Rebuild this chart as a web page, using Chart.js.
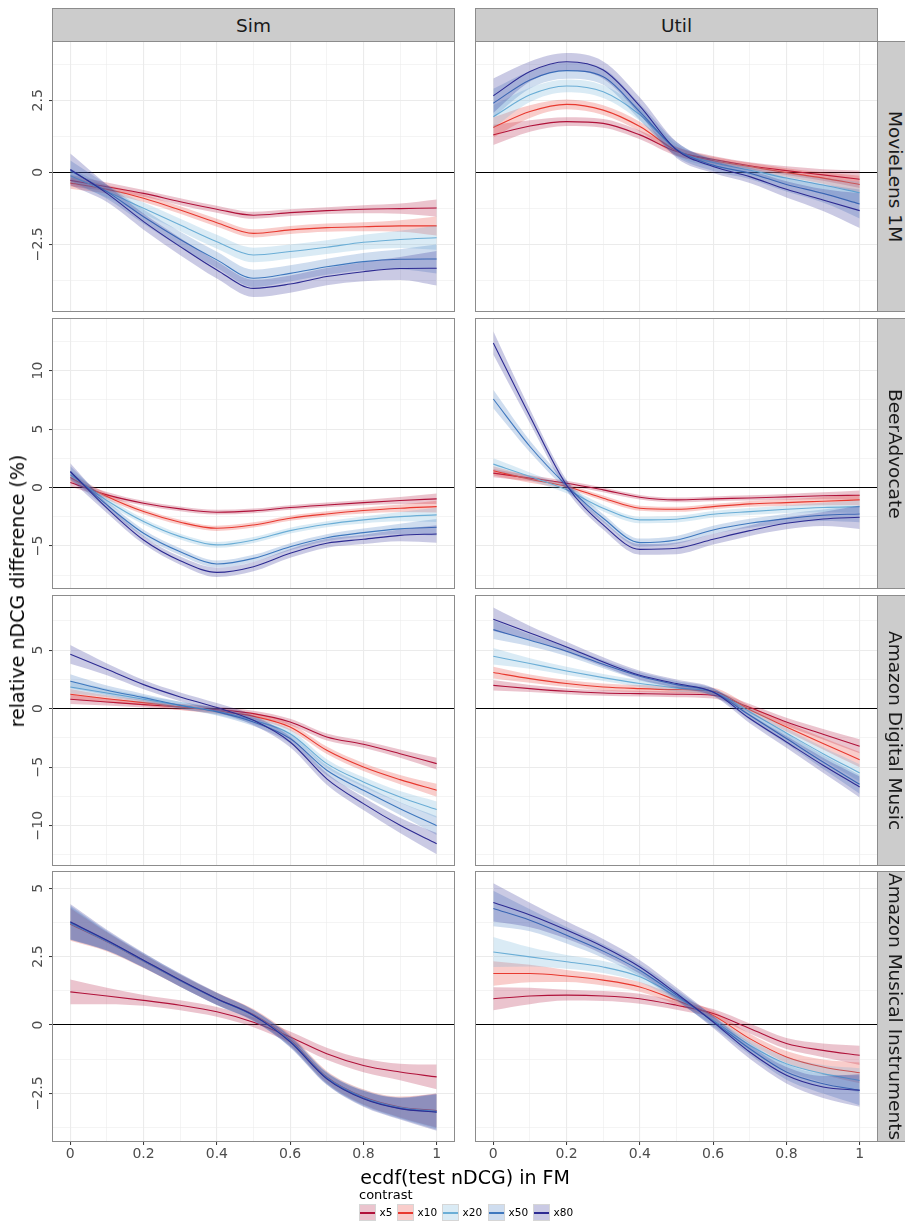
<!DOCTYPE html>
<html>
<head>
<meta charset="utf-8">
<script src="https://cdn.jsdelivr.net/npm/chart.js@4.4.1/dist/chart.umd.min.js"></script>
<style>
  body { margin: 0; background: #ffffff; }
  #fig { position: relative; width: 905px; height: 1224px; overflow: hidden;
         font-family: 'DejaVu Sans', sans-serif; background: #ffffff; }
  #fig canvas { position: absolute; }
  .strip { position: absolute; box-sizing: border-box; background: #CCCCCC;
           border: 1px solid #8C8C8C; color: #1A1A1A; font-size: 18.5px;
           display: flex; align-items: center; justify-content: center; white-space: nowrap; }
  .strip.side { writing-mode: vertical-rl; }
  .title { position: absolute; color: #000000; font-size: 19px; line-height: 22px; white-space: nowrap; }
  .key { position: absolute; box-sizing: border-box; width: 17px; height: 17px; border: 1px solid #D6D6D6; }
  .key i { position: absolute; left: 0; right: 0; top: 7px; height: 1.5px; }
  .klab { position: absolute; font-size: 10.5px; line-height: 14px; color: #000; }
</style>
</head>
<body>
<div id="fig"></div>
<script>
// ---- data: smoothed relative nDCG difference (%) at ecdf positions ----
const xs = [0, 0.1, 0.2, 0.3, 0.4, 0.5, 0.6, 0.7, 0.8, 0.9, 1];
const contrasts = ['x5', 'x10', 'x20', 'x50', 'x80'];
const methods = ['Sim', 'Util'];
const datasetNames = ['MovieLens 1M', 'BeerAdvocate', 'Amazon Digital Music', 'Amazon Musical Instruments'];

// axis breaks
const xBreaks = [0, 0.1, 0.2, 0.3, 0.4, 0.5, 0.6, 0.7, 0.8, 0.9, 1];
const xLabelled = [0, 0.2, 0.4, 0.6, 0.8, 1];
const yLimits = [[-4.85, 4.56], [-8.68, 14.5], [-13.45, 9.71], [-4.28, 5.63]];
const yMajor = [[-2.5, 0, 2.5], [-5, 0, 5, 10], [-10, -5, 0, 5], [-2.5, 0, 2.5, 5]];
const yMinor = [[-3.75, -1.25, 1.25, 3.75], [-7.5, -2.5, 2.5, 7.5, 12.5], [-12.5, -7.5, -2.5, 2.5, 7.5], [-3.75, -1.25, 1.25, 3.75]];

// MovieLens 1M
const simML1M = [
  [-0.28, -0.5, -0.73, -1.02, -1.28, -1.49, -1.40, -1.33, -1.28, -1.26, -1.24],
  [-0.37, -0.59, -0.9, -1.31, -1.75, -2.12, -2.0, -1.92, -1.89, -1.86, -1.86],
  [-0.12, -0.67, -1.25, -1.83, -2.41, -2.87, -2.75, -2.6, -2.43, -2.33, -2.27],
  [0.06, -0.67, -1.54, -2.33, -3.04, -3.68, -3.51, -3.28, -3.1, -3.02, -3.01],
  [0.1, -0.73, -1.71, -2.58, -3.39, -4.03, -3.88, -3.62, -3.45, -3.34, -3.33]
];
const simML1M_se = [
  [0.2, 0.15, 0.12, 0.12, 0.12, 0.12, 0.12, 0.12, 0.14, 0.18, 0.3],
  [0.2, 0.15, 0.13, 0.13, 0.14, 0.14, 0.14, 0.14, 0.16, 0.2, 0.33],
  [0.25, 0.2, 0.2, 0.22, 0.24, 0.25, 0.24, 0.24, 0.26, 0.3, 0.42],
  [0.35, 0.25, 0.25, 0.27, 0.28, 0.3, 0.28, 0.28, 0.3, 0.35, 0.5],
  [0.55, 0.3, 0.28, 0.3, 0.3, 0.3, 0.3, 0.3, 0.33, 0.4, 0.6]
];
const utilML1M = [
  [1.30, 1.61, 1.76, 1.70, 1.30, 0.72, 0.45, 0.23, 0.06, -0.09, -0.24],
  [1.56, 2.11, 2.36, 2.16, 1.59, 0.75, 0.41, 0.20, -0.01, -0.20, -0.42],
  [1.93, 2.69, 3.0, 2.8, 2.0, 0.78, 0.34, 0.08, -0.2, -0.44, -0.71],
  [2.40, 3.21, 3.53, 3.32, 2.1, 0.8, 0.25, -0.03, -0.42, -0.73, -1.10],
  [2.66, 3.50, 3.84, 3.55, 2.3, 0.78, 0.2, -0.15, -0.59, -0.96, -1.33]
];
const utilML1M_se = [
  [0.35, 0.2, 0.15, 0.15, 0.15, 0.15, 0.12, 0.12, 0.15, 0.2, 0.3],
  [0.35, 0.22, 0.17, 0.17, 0.17, 0.15, 0.13, 0.13, 0.15, 0.2, 0.3],
  [0.4, 0.25, 0.22, 0.22, 0.22, 0.2, 0.16, 0.16, 0.2, 0.25, 0.38],
  [0.5, 0.3, 0.28, 0.28, 0.28, 0.25, 0.2, 0.2, 0.25, 0.32, 0.5],
  [0.6, 0.35, 0.3, 0.3, 0.3, 0.28, 0.22, 0.22, 0.28, 0.38, 0.6]
];

// BeerAdvocate
const simBeer = [
  [0.43, -0.63, -1.34, -1.83, -2.11, -2.0, -1.71, -1.49, -1.29, -1.11, -0.97],
  [0.86, -0.77, -2.06, -2.97, -3.49, -3.2, -2.63, -2.26, -1.97, -1.77, -1.63],
  [1.09, -1.11, -2.91, -4.2, -4.91, -4.49, -3.69, -3.14, -2.77, -2.49, -2.34],
  [1.31, -1.49, -3.91, -5.49, -6.54, -6.06, -5.06, -4.29, -3.86, -3.54, -3.4],
  [1.37, -1.77, -4.49, -6.26, -7.26, -6.77, -5.63, -4.77, -4.43, -4.09, -3.97]
];
const simBeer_se = [
  [0.35, 0.25, 0.2, 0.2, 0.2, 0.2, 0.2, 0.2, 0.22, 0.3, 0.45],
  [0.35, 0.25, 0.22, 0.22, 0.22, 0.22, 0.22, 0.22, 0.25, 0.32, 0.5],
  [0.4, 0.3, 0.25, 0.25, 0.25, 0.25, 0.25, 0.25, 0.3, 0.4, 0.6],
  [0.5, 0.35, 0.3, 0.3, 0.3, 0.3, 0.3, 0.3, 0.35, 0.45, 0.7],
  [0.7, 0.4, 0.35, 0.35, 0.4, 0.4, 0.38, 0.38, 0.4, 0.5, 0.75]
];
const utilBeer = [
  [1.23, 0.8, 0.37, -0.2, -0.83, -1.06, -0.97, -0.89, -0.8, -0.71, -0.66],
  [1.43, 0.71, 0.09, -0.91, -1.77, -1.86, -1.63, -1.4, -1.29, -1.17, -1.06],
  [2.0, 0.94, -0.2, -1.77, -2.77, -2.71, -2.29, -2.06, -1.86, -1.71, -1.63],
  [7.57, 3.51, 0.17, -2.63, -4.71, -4.49, -3.63, -3.06, -2.66, -2.37, -2.26],
  [12.37, 6.1, 0.2, -3.2, -5.29, -5.2, -4.43, -3.69, -3.06, -2.69, -2.54]
];
const utilBeer_se = [
  [0.35, 0.25, 0.2, 0.2, 0.2, 0.2, 0.2, 0.22, 0.25, 0.3, 0.4],
  [0.4, 0.3, 0.22, 0.22, 0.22, 0.22, 0.22, 0.25, 0.28, 0.35, 0.45],
  [0.5, 0.35, 0.3, 0.28, 0.28, 0.28, 0.28, 0.3, 0.33, 0.4, 0.55],
  [0.8, 0.5, 0.4, 0.35, 0.35, 0.35, 0.35, 0.38, 0.42, 0.5, 0.7],
  [1.0, 0.6, 0.45, 0.4, 0.45, 0.5, 0.45, 0.45, 0.5, 0.6, 1.0]
];

// Amazon Digital Music
const simADM = [
  [0.8, 0.57, 0.34, 0.14, -0.09, -0.43, -1.14, -2.42, -3.05, -3.85, -4.7],
  [1.23, 0.85, 0.51, 0.14, -0.2, -0.66, -1.57, -3.56, -4.99, -6.07, -6.98],
  [1.85, 1.34, 0.8, 0.28, -0.23, -1.0, -2.14, -4.7, -6.27, -7.55, -8.63],
  [2.34, 1.57, 0.94, 0.28, -0.28, -1.14, -2.56, -5.27, -6.98, -8.55, -10.0],
  [4.64, 3.36, 2.05, 1.0, 0.09, -1.0, -2.85, -6.0, -8.12, -9.97, -11.54]
];
const simADM_se = [
  [0.4, 0.3, 0.25, 0.25, 0.25, 0.25, 0.28, 0.3, 0.3, 0.35, 0.5],
  [0.45, 0.3, 0.25, 0.25, 0.25, 0.28, 0.3, 0.32, 0.35, 0.4, 0.55],
  [0.55, 0.35, 0.3, 0.3, 0.3, 0.32, 0.35, 0.38, 0.42, 0.5, 0.7],
  [0.6, 0.4, 0.32, 0.3, 0.3, 0.35, 0.4, 0.42, 0.45, 0.55, 0.8],
  [0.8, 0.5, 0.4, 0.38, 0.38, 0.42, 0.45, 0.5, 0.55, 0.65, 0.9]
];
const utilADM = [
  [1.99, 1.71, 1.48, 1.34, 1.28, 1.23, 1.14, 0.09, -1.14, -2.19, -3.22],
  [3.08, 2.56, 2.14, 1.85, 1.71, 1.62, 1.48, -0.09, -1.57, -2.99, -4.36],
  [4.47, 3.85, 3.22, 2.65, 2.14, 1.77, 1.42, -0.28, -2.08, -3.85, -5.5],
  [6.75, 5.84, 4.9, 3.79, 2.76, 2.05, 1.42, -0.57, -2.56, -4.56, -6.47],
  [7.64, 6.47, 5.27, 3.99, 2.85, 2.14, 1.42, -0.85, -2.85, -4.84, -6.7]
];
const utilADM_se = [
  [0.45, 0.3, 0.25, 0.25, 0.25, 0.25, 0.28, 0.3, 0.35, 0.45, 0.6],
  [0.5, 0.35, 0.3, 0.3, 0.3, 0.3, 0.3, 0.32, 0.38, 0.5, 0.65],
  [0.7, 0.45, 0.35, 0.3, 0.3, 0.3, 0.3, 0.35, 0.42, 0.55, 0.75],
  [0.8, 0.5, 0.4, 0.35, 0.35, 0.32, 0.32, 0.38, 0.45, 0.6, 0.8],
  [1.0, 0.6, 0.45, 0.4, 0.38, 0.35, 0.35, 0.4, 0.5, 0.65, 0.9]
];

// Amazon Musical Instruments
const simAMI = [
  [1.21, 1.06, 0.9, 0.72, 0.48, 0.1, -0.44, -1.05, -1.48, -1.72, -1.9],
  [3.68, 3.04, 2.33, 1.62, 0.96, 0.38, -0.55, -1.9, -2.63, -3.0, -3.13],
  [3.72, 3.06, 2.34, 1.62, 0.95, 0.35, -0.58, -1.93, -2.65, -3.02, -3.16],
  [3.75, 3.08, 2.36, 1.63, 0.95, 0.34, -0.6, -1.95, -2.68, -3.05, -3.18],
  [3.77, 3.1, 2.37, 1.64, 0.96, 0.35, -0.62, -1.97, -2.7, -3.06, -3.19]
];
const simAMI_se = [
  [0.45, 0.3, 0.2, 0.18, 0.18, 0.18, 0.2, 0.22, 0.25, 0.3, 0.45],
  [0.6, 0.35, 0.25, 0.22, 0.22, 0.2, 0.2, 0.22, 0.28, 0.38, 0.62],
  [0.6, 0.35, 0.25, 0.22, 0.22, 0.2, 0.2, 0.22, 0.28, 0.38, 0.62],
  [0.62, 0.36, 0.26, 0.23, 0.22, 0.2, 0.2, 0.22, 0.28, 0.38, 0.65],
  [0.65, 0.38, 0.27, 0.24, 0.23, 0.2, 0.2, 0.22, 0.29, 0.4, 0.68]
];
const utilAMI = [
  [0.96, 1.06, 1.09, 1.06, 0.96, 0.72, 0.42, -0.13, -0.68, -0.93, -1.11],
  [1.88, 1.88, 1.79, 1.64, 1.39, 0.9, 0.35, -0.5, -1.17, -1.54, -1.75],
  [2.67, 2.49, 2.31, 2.12, 1.76, 1.03, 0.17, -0.74, -1.42, -1.78, -2.03],
  [4.26, 3.83, 3.28, 2.7, 2.0, 1.09, 0.13, -0.87, -1.72, -2.15, -2.39],
  [4.48, 4.02, 3.47, 2.86, 2.12, 1.15, 0.11, -0.99, -1.84, -2.27, -2.39]
];
const utilAMI_se = [
  [0.42, 0.3, 0.2, 0.18, 0.18, 0.16, 0.16, 0.18, 0.2, 0.25, 0.35],
  [0.45, 0.32, 0.22, 0.2, 0.18, 0.16, 0.16, 0.18, 0.22, 0.28, 0.38],
  [0.55, 0.35, 0.25, 0.22, 0.2, 0.18, 0.18, 0.2, 0.25, 0.32, 0.45],
  [0.65, 0.4, 0.3, 0.25, 0.22, 0.2, 0.2, 0.22, 0.28, 0.36, 0.55],
  [0.7, 0.45, 0.32, 0.28, 0.25, 0.22, 0.22, 0.25, 0.3, 0.4, 0.6]
];

// ---- styling ----
const lineColors = ['#B0123A', '#E8392F', '#6BAED6', '#3F78BE', '#2D2B92'];
const ribbonAlpha = 0.25;
const FONT = "'DejaVu Sans', sans-serif";

// panel geometry (page pixels)
const PLOT_LEFT = [52, 475];
const PLOT_TOP = [41, 318, 595, 871];
const PLOT_W = 403, PLOT_H = 271;
const PAD = 12;

Chart.defaults.font.family = FONT;
Chart.defaults.color = '#4D4D4D';

function rgba(hex, a) {
  const n = parseInt(hex.slice(1), 16);
  return `rgba(${(n >> 16) & 255},${(n >> 8) & 255},${n & 255},${a})`;
}
function fmtY(v) {
  return v < 0 ? '\u2212' + Math.abs(v) : String(v);
}
function isXMajor(v) { return xLabelled.some(b => Math.abs(b - v) < 1e-9); }

const measureCtx = document.createElement('canvas').getContext('2d');
function textWidth(s, size) {
  measureCtx.font = `${size}px ${FONT}`;
  return measureCtx.measureText(s).width;
}

// draws the grey frame around each facet panel
const panelBorder = {
  id: 'panelBorder',
  afterDraw(chart) {
    const { ctx, chartArea: a } = chart;
    ctx.save();
    ctx.strokeStyle = '#8C8C8C';
    ctx.lineWidth = 1;
    ctx.strokeRect(a.left + 0.5, a.top + 0.5, a.right - a.left - 1, a.bottom - a.top - 1);
    ctx.restore();
  }
};

const fig = document.getElementById('fig');

function addPanel(row, col, mids, ses) {
  const yW = col === 0 ? 40 : 0;
  const xH = row === 3 ? 30 : 0;
  const w = PAD + yW + PLOT_W + PAD;
  const h = PAD + PLOT_H + xH + PAD;
  const cv = document.createElement('canvas');
  cv.width = w; cv.height = h;
  cv.style.width = w + 'px'; cv.style.height = h + 'px';
  cv.style.left = (PLOT_LEFT[col] - yW - PAD) + 'px';
  cv.style.top = (PLOT_TOP[row] - PAD) + 'px';
  fig.appendChild(cv);

  const majors = yMajor[row];
  const yTicks = majors.concat(yMinor[row]).sort((a, b) => a - b);
  const widest = Math.max(...majors.map(v => textWidth(fmtY(v), 14)));
  const tickLen = 3;
  const yPad = 13.5 - tickLen - widest / 2;

  const ds = [];
  mids.forEach((mid, k) => {
    const col = lineColors[k];
    const se = ses[k];
    const base = k * 3;
    ds.push({
      data: xs.map((x, i) => ({ x, y: mid[i] + se[i] })),
      borderWidth: 0, borderColor: 'rgba(0,0,0,0)', pointRadius: 0,
      backgroundColor: rgba(col, ribbonAlpha), fill: '+1',
      cubicInterpolationMode: 'monotone', order: -base
    });
    ds.push({
      data: xs.map((x, i) => ({ x, y: mid[i] - se[i] })),
      borderWidth: 0, borderColor: 'rgba(0,0,0,0)', pointRadius: 0, fill: false,
      cubicInterpolationMode: 'monotone', order: -(base + 1)
    });
    ds.push({
      label: contrasts[k],
      data: xs.map((x, i) => ({ x, y: mid[i] })),
      borderColor: col, borderWidth: 1.1, pointRadius: 0, fill: false,
      cubicInterpolationMode: 'monotone', order: -(base + 2)
    });
  });

  new Chart(cv, {
    type: 'line',
    data: { datasets: ds },
    plugins: [panelBorder],
    options: {
      responsive: false, animation: false, events: [], devicePixelRatio: 1,
      layout: { padding: PAD },
      plugins: { legend: { display: false }, tooltip: { enabled: false } },
      scales: {
        x: {
          type: 'linear', min: -0.05, max: 1.05,
          afterBuildTicks: s => { s.ticks = xBreaks.map(v => ({ value: v })); },
          afterFit: s => { s.height = xH; },
          border: { display: false },
          grid: {
            color: '#EBEBEB',
            lineWidth: c => (c.tick && isXMajor(c.tick.value)) ? 1.1 : 0.55,
            drawTicks: row === 3, tickLength: tickLen, tickWidth: 1,
            tickColor: c => (c.tick && isXMajor(c.tick.value)) ? '#333333' : 'rgba(0,0,0,0)'
          },
          ticks: {
            display: row === 3, autoSkip: false, minRotation: 0, maxRotation: 0,
            padding: 1, color: '#4D4D4D', font: { size: 14 },
            callback: v => isXMajor(v) ? String(Math.round(v * 10) / 10) : ''
          }
        },
        y: {
          type: 'linear', min: yLimits[row][0], max: yLimits[row][1],
          afterBuildTicks: s => { s.ticks = yTicks.map(v => ({ value: v })); },
          afterFit: s => { s.width = yW; },
          border: { display: false },
          grid: {
            color: c => (c.tick && c.tick.value === 0) ? '#000000' : '#EBEBEB',
            lineWidth: c => {
              if (!c.tick) return 1;
              if (c.tick.value === 0) return 1;
              return majors.includes(c.tick.value) ? 1.1 : 0.55;
            },
            drawTicks: col === 0, tickLength: tickLen, tickWidth: 1,
            tickColor: c => (c.tick && majors.includes(c.tick.value)) ? '#333333' : 'rgba(0,0,0,0)'
          },
          ticks: {
            display: col === 0, autoSkip: false, minRotation: 90, maxRotation: 90,
            crossAlign: 'center', padding: yPad, color: '#4D4D4D', font: { size: 14 },
            callback: v => majors.includes(v) ? fmtY(v) : ''
          }
        }
      }
    }
  });
}

const panels = [
  [simML1M, simML1M_se, utilML1M, utilML1M_se],
  [simBeer, simBeer_se, utilBeer, utilBeer_se],
  [simADM, simADM_se, utilADM, utilADM_se],
  [simAMI, simAMI_se, utilAMI, utilAMI_se]
];
panels.forEach((p, r) => {
  addPanel(r, 0, p[0], p[1]);
  addPanel(r, 1, p[2], p[3]);
});

// facet strips
function addDiv(cls, text, css) {
  const d = document.createElement('div');
  d.className = cls;
  d.textContent = text;
  Object.assign(d.style, css);
  fig.appendChild(d);
  return d;
}
methods.forEach((m, c) => {
  addDiv('strip', m, { left: PLOT_LEFT[c] + 'px', top: '8px', width: PLOT_W + 'px', height: (PLOT_TOP[0] - 8 + 1) + 'px' });
});
datasetNames.forEach((n, r) => {
  addDiv('strip side', n, { left: (PLOT_LEFT[1] + PLOT_W - 1) + 'px', top: PLOT_TOP[r] + 'px', width: '36px', height: PLOT_H + 'px' });
});

// axis titles
addDiv('title', 'ecdf(test nDCG) in FM', { left: '52px', top: '1166px', width: (PLOT_LEFT[1] + PLOT_W - 52) + 'px', textAlign: 'center' });
addDiv('title', 'relative nDCG difference (%)', { left: '17px', top: '591px', transform: 'translate(-50%,-50%) rotate(-90deg)' });

// legend
addDiv('klab', 'contrast', { left: '359px', top: '1187px', fontSize: '13px', lineHeight: '15px' });
const keyLeft = [359, 397, 442, 488, 533];
contrasts.forEach((c, k) => {
  const key = addDiv('key', '', { left: keyLeft[k] + 'px', top: '1204px', background: rgba(lineColors[k], ribbonAlpha) });
  const ln = document.createElement('i');
  ln.style.background = lineColors[k];
  key.appendChild(ln);
  addDiv('klab', c, { left: (keyLeft[k] + 20.5) + 'px', top: '1205px' });
});
</script>
</body>
</html>
